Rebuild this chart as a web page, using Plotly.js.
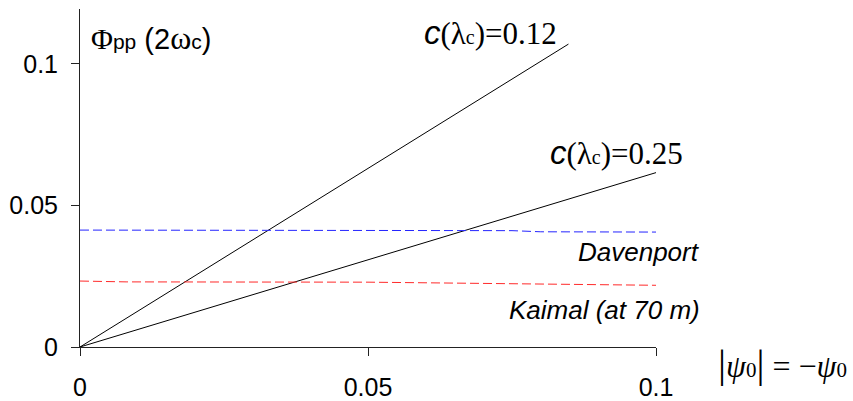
<!DOCTYPE html>
<html>
<head>
<meta charset="utf-8">
<script src="https://cdn.plot.ly/plotly-3.0.1.min.js"></script>
<style>
  html, body { margin: 0; padding: 0; background: #fff; }
  #chart { width: 853px; height: 401px; }
</style>
</head>
<body>
<div id="chart"></div>
<script>
// Spectral value Φpp(2ωc) against |ψ0|
const lineX012 = [0, 0.0848];
const lineY012 = [0, 0.107];
const lineX025 = [0, 0.1];
const lineY025 = [0, 0.0616];

const davenportX = [0, 0.05, 0.075, 0.08, 0.1];
const davenportY = [0.0413, 0.0412, 0.0411, 0.0407, 0.0406];

const kaimalX = [0, 0.008, 0.05, 0.07, 0.1];
const kaimalY = [0.0233, 0.0230, 0.0229, 0.0224, 0.0218];

const tickVals = [0, 0.05, 0.1];
const tickText = ['0', '0.05', '0.1'];

const serif = 'Liberation Serif, Times New Roman, serif';
const sans = 'Liberation Sans, Arial, sans-serif';

const traces = [
  { x: lineX012, y: lineY012, mode: 'lines', line: { color: '#000', width: 1 }, hoverinfo: 'skip' },
  { x: lineX025, y: lineY025, mode: 'lines', line: { color: '#000', width: 1 }, hoverinfo: 'skip' },
  { x: davenportX, y: davenportY, mode: 'lines', line: { color: '#2424ff', width: 1, dash: '9px,4px' }, hoverinfo: 'skip' },
  { x: kaimalX, y: kaimalY, mode: 'lines', line: { color: '#ff2a2a', width: 1, dash: '9px,4px' }, hoverinfo: 'skip' }
];

const axisCommon = {
  showgrid: false,
  zeroline: false,
  showline: true,
  linecolor: '#222',
  linewidth: 1,
  ticks: 'outside',
  ticklen: 8,
  tickcolor: '#222',
  tickfont: { family: sans, size: 25, color: '#000' },
  tickvals: tickVals,
  ticktext: tickText
};

const layout = {
  width: 853,
  height: 401,
  margin: { l: 80, r: 197, t: 9, b: 54 },
  paper_bgcolor: '#fff',
  plot_bgcolor: '#fff',
  showlegend: false,
  xaxis: Object.assign({}, axisCommon, { range: [0, 0.1], ticklabelstandoff: 10 }),
  yaxis: Object.assign({}, axisCommon, { range: [0, 0.1194], ticklabelstandoff: 8 }),
  annotations: [
    {
      xref: 'paper', yref: 'paper', x: 0.0155, y: 0.915, xanchor: 'left', yanchor: 'middle', showarrow: false,
      text: '<span style="font-family:Liberation Serif;font-size:30px">Φ</span><span style="font-size:21px">pp</span> (2<span style="font-family:Liberation Serif;font-size:32px">ω</span><span style="font-size:21px">c</span>)',
      font: { family: sans, size: 29, color: '#000' }
    },
    {
      xref: 'paper', yref: 'paper', x: 0.593, y: 0.929, xanchor: 'left', yanchor: 'middle', showarrow: false,
      text: '<span style="font-family:Liberation Sans;font-size:33px"><i>c</i></span>(λ<span style="font-size:20px">c</span>)=0.12',
      font: { family: serif, size: 31, color: '#000' }
    },
    {
      xref: 'paper', yref: 'paper', x: 0.813, y: 0.574, xanchor: 'left', yanchor: 'middle', showarrow: false,
      text: '<span style="font-family:Liberation Sans;font-size:33px"><i>c</i></span>(λ<span style="font-size:20px">c</span>)=0.25',
      font: { family: serif, size: 31, color: '#000' }
    },
    {
      xref: 'paper', yref: 'paper', x: 1.079, y: 0.281, xanchor: 'right', yanchor: 'middle', showarrow: false,
      text: '<i>Davenport</i>',
      font: { family: sans, size: 26, color: '#000' }
    },
    {
      xref: 'paper', yref: 'paper', x: 1.08, y: 0.109, xanchor: 'right', yanchor: 'middle', showarrow: false,
      text: '<i>Kaimal (at 70 m)</i>',
      font: { family: sans, size: 26, color: '#000' }
    },
    {
      xref: 'paper', yref: 'paper', x: 1.105, y: -0.05, xanchor: 'left', yanchor: 'middle', showarrow: false,
      text: '<span style="font-size:40px">|</span><i>ψ</i><span style="font-size:21px">0</span><span style="font-size:40px">|</span> = −<i>ψ</i><span style="font-size:21px">0</span>',
      font: { family: serif, size: 32, color: '#000' }
    }
  ]
};

Plotly.newPlot('chart', traces, layout, { staticPlot: true, displayModeBar: false });
</script>
</body>
</html>
